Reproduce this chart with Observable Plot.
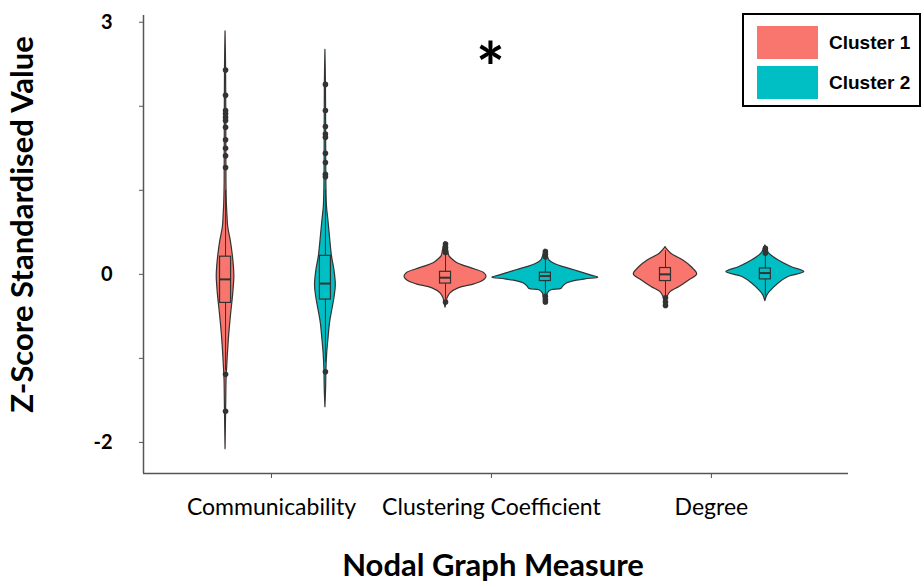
<!DOCTYPE html>
<html>
<head>
<meta charset="utf-8">
<script src="https://cdn.jsdelivr.net/npm/d3@7"></script>
<script src="https://cdn.jsdelivr.net/npm/@observablehq/plot@0.6"></script>
<style>
  body { margin: 0; background: #fff; }
  #wrap { position: relative; width: 922px; height: 584px; }
  #legend {
    position: absolute; left: 742px; top: 13px; width: 179px; height: 94px;
    box-sizing: border-box; border: 2px solid #000; background: #fff;
    font-family: "Liberation Sans", Arial, sans-serif; font-weight: bold; font-size: 19px; color: #000;
  }
  #legend .item { position: absolute; left: 13px; display: flex; align-items: center; }
  #legend .swatch { width: 61px; height: 33px; margin-right: 11px; }
</style>
</head>
<body>
<div id="wrap">
  <div id="chart"></div>
  <div id="legend"></div>
</div>
<script>
// Categories
const measures = ["Communicability", "Clustering Coefficient", "Degree"];
const clusters = ["Cluster 1", "Cluster 2"];
const clusterColors = ["#F8766D", "#00BFC4"];
const yTicks = [-2, -1, 0, 1, 2, 3];
const yTickLabels = [-2, 0, 3];
const significant = ["Clustering Coefficient"];

// Violin density profiles: [z value, half-width density], top to bottom
const commCluster1 = [[2.89,0],[2.5,0.5],[2.0,0.7],[1.5,0.8],[1.1,0.9],[0.85,1.3],[0.70,1.9],[0.56,2.7],[0.40,5.2],[0.25,7.0],[0.10,8.3],[-0.03,8.8],[-0.23,7.7],[-0.47,5.6],[-0.70,3.8],[-0.94,2.4],[-1.18,1.3],[-1.26,1.0],[-1.6,0.6],[-2.08,0]];
const commCluster2 = [[2.67,0],[2.3,0.5],[1.8,0.7],[1.4,0.8],[1.06,1.0],[0.80,1.6],[0.64,3.0],[0.44,4.6],[0.21,6.6],[0.05,9.0],[-0.13,10.4],[-0.27,9.2],[-0.43,6.8],[-0.58,4.6],[-0.75,3.2],[-0.94,1.8],[-1.14,1.0],[-1.35,0.7],[-1.58,0]];
const clustCluster1 = [[0.385,0],[0.345,1.5],[0.286,2.5],[0.214,4],[0.167,8],[0.131,12],[0.095,20],[0.060,29],[0.012,39],[-0.032,41],[-0.080,37.5],[-0.119,29],[-0.167,13],[-0.226,5],[-0.286,2],[-0.345,1],[-0.396,0]];
const clustCluster2 = [[0.294,0],[0.226,2],[0.167,4],[0.119,10],[0.083,19],[0.048,29],[0.012,39],[-0.018,47],[-0.039,53],[-0.060,40],[-0.083,28],[-0.107,22],[-0.143,18],[-0.173,16],[-0.190,6],[-0.226,2.5],[-0.286,1.5],[-0.357,0]];
const degCluster1 = [[0.325,0],[0.30,1.5],[0.246,5.8],[0.167,17.5],[0.087,26],[0.0,31.7],[-0.071,24],[-0.151,14],[-0.211,5],[-0.270,2],[-0.333,1],[-0.396,0]];
const degCluster2 = [[0.345,0],[0.286,2],[0.246,4],[0.167,13],[0.087,26],[0.027,39],[-0.032,23],[-0.111,13],[-0.190,6],[-0.250,2],[-0.318,0]];

// Box statistics: [lower whisker, Q1, median, Q3, upper whisker]
const commBox1 = [-1.15, -0.34, -0.06, 0.21, 1.0];
const commBox2 = [-1.05, -0.30, -0.11, 0.22, 1.0];
const clustBox1 = [-0.30, -0.11, -0.04, 0.03, 0.24];
const clustBox2 = [-0.24, -0.08, -0.02, 0.02, 0.18];
const degBox1 = [-0.26, -0.08, 0.0, 0.075, 0.28];
const degBox2 = [-0.26, -0.06, 0.015, 0.07, 0.22];

// Outliers beyond the whiskers
const commOut1 = [2.43, 2.13, 1.95, 1.91, 1.87, 1.83, 1.75, 1.60, 1.50, 1.41, 1.27, -1.19, -1.63];
const commOut2 = [2.26, 1.95, 1.76, 1.67, 1.63, 1.44, 1.33, 1.19, 1.16, -1.16];
const clustOut1 = [0.36, 0.32, 0.28, 0.26, -0.33];
const clustOut2 = [0.27, 0.24, 0.21, -0.26, -0.30, -0.33];
const degOut1 = [-0.28, -0.33, -0.37];
const degOut2 = [0.31, 0.28, 0.25];

const violins = [[commCluster1, commCluster2], [clustCluster1, clustCluster2], [degCluster1, degCluster2]];
const boxes = [[commBox1, commBox2], [clustBox1, clustBox2], [degBox1, degBox2]];
const outliers = [[commOut1, commOut2], [clustOut1, clustOut2], [degOut1, degOut2]];

// Layout of groups on the x axis (measure index ± dodge)
const dodge = 0.227;
const widthPerDensity = 1 / 220;
const boxHalf = 0.025;
const center = (i, j) => i + (j === 0 ? -dodge : dodge);

const violinRows = [], boxRows = [], outlierRows = [];
measures.forEach((m, i) => clusters.forEach((c, j) => {
  const cx = center(i, j);
  for (const [y, d] of violins[i][j]) {
    violinRows.push({key: m + c, cluster: c, y, x1: cx - d * widthPerDensity, x2: cx + d * widthPerDensity});
  }
  const [lo, q1, med, q3, hi] = boxes[i][j];
  boxRows.push({cluster: c, cx, lo, q1, med, q3, hi});
  for (const v of outliers[i][j]) outlierRows.push({cluster: c, cx, v});
}));

const ink = "#333";
const axisInk = "#555";

const chart = Plot.plot({
  width: 922,
  height: 584,
  marginLeft: 143,
  marginRight: 74,
  marginTop: 15,
  marginBottom: 111,
  style: {fontFamily: "Lato, sans-serif", background: "#fff", color: "#000"},
  x: {type: "linear", domain: [-0.6, 2.605], axis: null},
  y: {domain: [-2.37, 3.08], axis: null},
  color: {domain: clusters, range: clusterColors},
  marks: [
    Plot.areaX(violinRows, {y: "y", x1: "x1", x2: "x2", z: "key", fill: "cluster", stroke: ink, strokeWidth: 1.2, curve: "catmull-rom"}),
    Plot.ruleX(boxRows, {x: "cx", y1: "lo", y2: "q1", stroke: ink, strokeWidth: 1}),
    Plot.ruleX(boxRows, {x: "cx", y1: "q3", y2: "hi", stroke: ink, strokeWidth: 1}),
    Plot.rect(boxRows, {x1: d => d.cx - boxHalf, x2: d => d.cx + boxHalf, y1: "q1", y2: "q3", fill: "cluster", stroke: ink, strokeWidth: 1.2}),
    Plot.ruleY(boxRows, {y: "med", x1: d => d.cx - boxHalf, x2: d => d.cx + boxHalf, stroke: ink, strokeWidth: 2}),
    Plot.dot(outlierRows, {x: "cx", y: "v", r: 2.8, fill: ink, stroke: null}),
    // axes
    Plot.ruleX([-0.6], {stroke: axisInk, strokeWidth: 1.5}),
    Plot.ruleY([-2.37], {stroke: axisInk, strokeWidth: 1.5}),
    Plot.axisY({ticks: yTicks, tickFormat: d => yTickLabels.includes(d) ? String(d) : "", tickSize: 4, tickPadding: 27,
      fontSize: 20, fontWeight: "bold", stroke: axisInk, label: null}),
    Plot.axisX({ticks: [0, 1, 2], tickFormat: i => measures[i], tickSize: 5, tickPadding: 20, dx: -4,
      fontSize: 23, stroke: axisInk, label: null}),
    // axis titles
    Plot.text(["Z-Score Standardised Value"], {frameAnchor: "left", textAnchor: "middle", lineAnchor: "middle",
      rotate: -90, dx: -120, dy: -20, fontSize: 31, fontWeight: "bold", fill: "#000"}),
    Plot.text(["Nodal Graph Measure"], {frameAnchor: "bottom", lineAnchor: "middle", dy: 93, dx: -3,
      fontSize: 31, fontWeight: "bold", fill: "#000"}),
    // significance marker
    Plot.text(significant, {x: d => measures.indexOf(d), frameAnchor: "top", lineAnchor: "middle", text: () => "*",
      dy: 56, dx: -5, fontSize: 68, fontWeight: "bold", fill: "#000"})
  ]
});
document.getElementById("chart").appendChild(chart);

// Legend
const legend = d3.select("#legend");
clusters.forEach((c, j) => {
  const item = legend.append("div").attr("class", "item").style("top", (11 + j * 40) + "px");
  item.append("div").attr("class", "swatch").style("background", clusterColors[j]);
  item.append("span").text(c);
});
</script>
</body>
</html>
